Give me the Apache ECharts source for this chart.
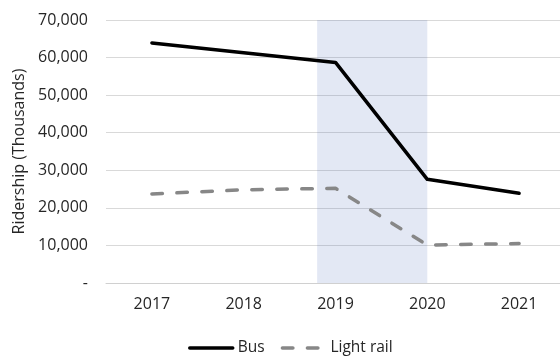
<!DOCTYPE html>
<html>
<head>
<meta charset="utf-8">
<script src="https://cdn.jsdelivr.net/npm/echarts@6/dist/echarts.min.js"></script>
<style>
  html, body { margin: 0; padding: 0; background: #fff; }
  #chart { width: 560px; height: 356px; }
</style>
</head>
<body>
<div id="chart"></div>
<script>
// Annual ridership, thousands of trips
const years = ['2017', '2018', '2019', '2020', '2021'];
const busRidership = [63900, 61300, 58700, 27600, 23900];
const lightRailRidership = [23700, 24800, 25200, 10100, 10500];

// Highlighted period, in year units on the hidden value axis
const shadeStart = 2018.8;
const shadeEnd = 2020.0;

// Value-axis ticks
const yMin = 0;
const yMax = 70000;
const yStep = 10000;

const FONT = '"Open Sans", "Noto Sans", sans-serif';
const TEXT = '#262626';

const chart = echarts.init(document.getElementById('chart'), null, { renderer: 'canvas' });

chart.setOption({
  animation: false,
  backgroundColor: '#ffffff',
  textStyle: { fontFamily: FONT, color: TEXT },
  grid: { left: 106, top: 20, width: 459, bottom: 73, containLabel: false, outerBoundsMode: 'none' },
  legend: {
    left: 183,
    top: 335,
    itemWidth: 43,
    itemHeight: 14,
    itemGap: 16,
    itemStyle: { opacity: 0 },
    lineStyle: { width: 3.5, cap: 'round' },
    textStyle: { fontFamily: FONT, fontSize: 15.5, color: TEXT },
    data: ['Bus', 'Light rail']
  },
  xAxis: [
    {
      type: 'category',
      data: years,
      boundaryGap: true,
      axisLine: { show: true, lineStyle: { color: '#d0d0d0', width: 1 } },
      axisTick: { show: false },
      axisLabel: { fontFamily: FONT, fontSize: 16, color: TEXT, margin: 13 }
    },
    {
      type: 'value',
      min: 2016.5,
      max: 2021.5,
      show: false,
      position: 'bottom'
    }
  ],
  yAxis: {
    type: 'value',
    min: yMin,
    max: yMax,
    interval: yStep,
    name: 'Ridership (Thousands)',
    nameLocation: 'middle',
    nameGap: 77,
    nameTextStyle: { fontFamily: FONT, fontSize: 16, color: TEXT },
    axisLine: { show: false },
    axisTick: { show: false },
    splitLine: { show: true, lineStyle: { color: '#d9d9d9', width: 1 } },
    axisLabel: {
      fontFamily: FONT,
      fontSize: 16,
      color: TEXT,
      margin: 18,
      formatter: v => (v === 0 ? '-' : v.toLocaleString('en-US'))
    }
  },
  series: [
    {
      name: 'shade',
      type: 'line',
      xAxisIndex: 1,
      data: [],
      silent: true,
      markArea: {
        silent: true,
        itemStyle: { color: 'rgba(68, 100, 180, 0.15)' },
        data: [[{ xAxis: shadeStart, yAxis: yMin }, { xAxis: shadeEnd, yAxis: yMax }]]
      }
    },
    {
      name: 'Bus',
      type: 'line',
      data: busRidership,
      symbol: 'none',
      lineStyle: { color: '#000000', width: 3.5, cap: 'round', join: 'round' },
      itemStyle: { color: '#000000' },
      z: 5
    },
    {
      name: 'Light rail',
      type: 'line',
      data: lightRailRidership,
      symbol: 'none',
      lineStyle: { color: '#878787', width: 3.5, type: [10.5, 14.5], cap: 'round', join: 'round' },
      itemStyle: { color: '#878787' },
      z: 4
    }
  ]
});
</script>
</body>
</html>
